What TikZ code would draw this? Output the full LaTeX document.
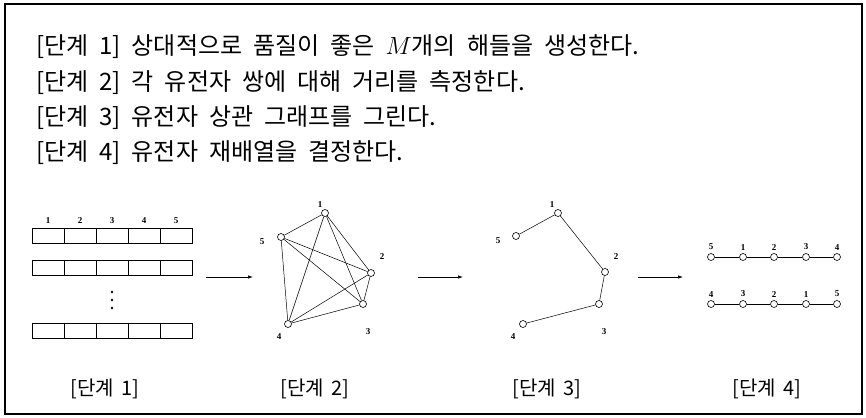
\documentclass[tikz,border=0pt]{standalone}
\usepackage{fontspec}
\newfontfamily\kr{Noto Sans CJK KR}
\newfontfamily\lbl{Liberation Serif}
\usetikzlibrary{arrows.meta, positioning}
\newcommand\krtext{\kr\fontsize{24}{24}\selectfont\spaceskip=11pt\relax}
\newcommand\krcap{\kr\fontsize{20}{20}\selectfont\spaceskip=8pt\relax}

\begin{document}
\begin{tikzpicture}[
    x=1pt, y=-1pt,
    every node/.style={inner sep=0pt},
    steptext/.style={font=\krtext, anchor=west},
    caption/.style={font=\krcap},
    cell/.style={draw, line width=0.8pt, minimum width=32pt, minimum height=15pt},
    vtx/.style={circle, draw, fill=white, line width=0.6pt, minimum size=7pt},
    num/.style={font=\lbl\bfseries\fontsize{9}{9}\selectfont},
    edge/.style={line width=0.5pt},
    arrow/.style={-{Latex[length=5pt, width=3.5pt]}, line width=0.7pt}
]
\useasboundingbox (0,0) rectangle (866,417);
\draw[line width=1.2pt] (5,4) rectangle (862,414);

% algorithm steps
\node[steptext] (s1) at (36,47) {[단계 1] 상대적으로 품질이 좋은 $M$개의 해들을 생성한다.};
\node[steptext] (s2) at (36,83) {[단계 2] 각 유전자 쌍에 대해 거리를 측정한다.};
\node[steptext] (s3) at (36,118) {[단계 3] 유전자 상관 그래프를 그린다.};
\node[steptext] (s4) at (36,153) {[단계 4] 유전자 재배열을 결정한다.};

% step 1: solutions
\foreach \r/\y in {a/236, b/268, c/331}
  \foreach \c in {1,...,5}
    \node[cell] (\r\c) at ({16+32*\c},\y) {};
\foreach \c in {1,...,5}
  \node[num, above=4pt of a\c] {\c};
\foreach \y in {292,300,308}
  \fill (112,\y) circle (1.3pt);

% step 2: distance graph
\node[vtx] (g1) at (325,213) {};
\node[vtx] (g2) at (371,273) {};
\node[vtx] (g3) at (363,304) {};
\node[vtx] (g4) at (288,324) {};
\node[vtx] (g5) at (281,237) {};
\foreach \i/\j in {1/2,1/3,1/4,1/5,2/3,2/4,2/5,3/4,3/5,4/5}
  \draw[edge] (g\i) -- (g\j);
\node[num] at (320,205) {1};
\node[num] at (382,257) {2};
\node[num] at (368,332) {3};
\node[num] at (279,337) {4};
\node[num] at (262,242) {5};

% step 3: correlation graph
\node[vtx] (h1) at (558,213) {};
\node[vtx] (h2) at (605,272) {};
\node[vtx] (h3) at (599,304) {};
\node[vtx] (h4) at (523,324) {};
\node[vtx] (h5) at (516,236) {};
\foreach \i/\j in {5/1,1/2,2/3,3/4}
  \draw[edge] (h\i) -- (h\j);
\node[num] at (552,205) {1};
\node[num] at (616,257) {2};
\node[num] at (604,332) {3};
\node[num] at (513,337) {4};
\node[num] at (498,241) {5};

% step 4: reorderings
\foreach \k/\x/\p/\q in {1/711/5/4, 2/743/1/3, 3/774/2/2, 4/806/3/1, 5/837/4/5} {
  \node[vtx] (p\k) at (\x,257) {};
  \node[num, above=3pt of p\k] {\p};
  \node[vtx] (q\k) at (\x,304) {};
  \node[num, above=3pt of q\k] {\q};
}
\foreach \k [evaluate=\k as \n using int(\k+1)] in {1,...,4} {
  \draw[edge] (p\k) -- (p\n);
  \draw[edge] (q\k) -- (q\n);
}

% arrows between steps
\coordinate (a1s) at (206,277); \coordinate (a1e) at (253,277);
\coordinate (a2s) at (418,277); \coordinate (a2e) at (463,277);
\coordinate (a3s) at (638,277); \coordinate (a3e) at (683,277);
\draw[arrow] (a1s) -- (a1e);
\draw[arrow] (a2s) -- (a2e);
\draw[arrow] (a3s) -- (a3e);

% captions
\node[caption] (c1) at (105,389) {[단계 1]};
\node[caption] (c2) at (315,389) {[단계 2]};
\node[caption] (c3) at (547,389) {[단계 3]};
\node[caption] (c4) at (767,389) {[단계 4]};
\end{tikzpicture}
\end{document}
